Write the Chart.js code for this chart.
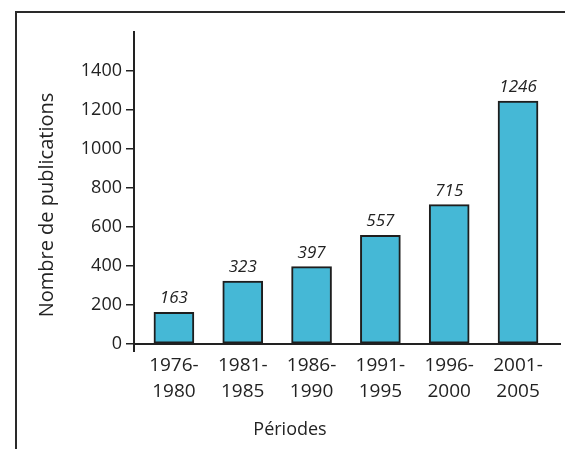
<!DOCTYPE html>
<html>
<head>
<meta charset="utf-8">
<script src="https://cdn.jsdelivr.net/npm/chart.js@4/dist/chart.umd.min.js"></script>
<style>
    html, body { margin: 0; padding: 0; background: #fff; overflow: hidden; }
    #wrap { position: relative; width: 565px; height: 449px; }
    #frame {
        position: absolute; left: 15px; top: 11px; width: 620px; height: 520px;
        border: 2px solid #2a2a2a; box-sizing: border-box; pointer-events: none;
    }
    canvas { position: absolute; left: 0; top: 0; }
</style>
</head>
<body>
<div id="wrap">
    <div id="frame"></div>
    <canvas id="chart" width="565" height="449"></canvas>
</div>
<script>
// données du graphique
const periodes = [['1976-', '1980'], ['1981-', '1985'], ['1986-', '1990'], ['1991-', '1995'], ['1996-', '2000'], ['2001-', '2005']];
const publications = [163, 323, 397, 557, 715, 1246];
const yTicks = [0, 200, 400, 600, 800, 1000, 1200, 1400];
const titreX = 'Périodes';
const titreY = 'Nombre de publications';

const INK = '#222';
const FONT = '"Open Sans", sans-serif';

// étiquettes en italique au-dessus des barres, titres des axes
const annotations = {
    id: 'annotations',
    afterDatasetsDraw(chart) {
        const ctx = chart.ctx;
        const meta = chart.getDatasetMeta(0);
        ctx.save();
        ctx.font = 'italic 17px ' + FONT;
        ctx.fillStyle = INK;
        ctx.textAlign = 'center';
        ctx.textBaseline = 'alphabetic';
        meta.data.forEach((bar, i) => {
            ctx.fillText(String(publications[i]), bar.x, bar.y - 9);
        });
        ctx.restore();
    },
    afterDraw(chart) {
        const ctx = chart.ctx;
        const area = chart.chartArea;
        ctx.save();
        // petit prolongement de l'axe vertical sous l'axe horizontal
        ctx.strokeStyle = INK;
        ctx.lineWidth = 2;
        ctx.beginPath();
        ctx.moveTo(area.left, area.bottom);
        ctx.lineTo(area.left, area.bottom + 8);
        ctx.stroke();

        ctx.fillStyle = INK;
        ctx.textAlign = 'center';
        ctx.textBaseline = 'middle';
        ctx.font = '18px ' + FONT;
        ctx.fillText(titreX, 290, 430);

        ctx.translate(47, 205);
        ctx.rotate(-Math.PI / 2);
        ctx.font = '20px ' + FONT;
        ctx.fillText(titreY, 0, 0);
        ctx.restore();
    }
};

new Chart(document.getElementById('chart'), {
    type: 'bar',
    data: {
        datasets: [{
            data: publications.map((v, i) => ({ x: i, y: v })),
            backgroundColor: '#45b8d6',
            borderColor: '#1e1e1e',
            borderWidth: 2,
            borderSkipped: false,
            barThickness: 40
        }]
    },
    options: {
        responsive: false,
        animation: false,
        layout: { padding: { top: 32, right: 5, bottom: 0, left: 0 } },
        plugins: {
            legend: { display: false },
            tooltip: { enabled: false }
        },
        scales: {
            x: {
                type: 'linear',
                offset: false,
                min: -0.58,
                max: 5.61,
                afterBuildTicks: (scale) => {
                    scale.ticks = periodes.map((p, i) => ({ value: i }));
                },
                afterFit: (scale) => { scale.height = 105; },
                ticks: {
                    autoSkip: false,
                    maxRotation: 0,
                    padding: 1,
                    color: INK,
                    font: { family: FONT, size: 19, lineHeight: 1.35 },
                    callback: (v) => periodes[v]
                },
                grid: {
                    drawOnChartArea: false,
                    tickLength: 8,
                    color: 'rgba(0,0,0,0)'
                },
                border: { color: INK, width: 2 }
            },
            y: {
                min: 0,
                max: 1600,
                afterBuildTicks: (scale) => {
                    scale.ticks = yTicks.map(v => ({ value: v }));
                },
                afterFit: (scale) => { scale.width = 134; },
                ticks: {
                    padding: 4,
                    color: INK,
                    font: { family: FONT, size: 18 },
                    callback: (v) => String(v)
                },
                grid: {
                    drawOnChartArea: false,
                    tickLength: 8,
                    lineWidth: 1.5,
                    color: INK
                },
                border: { color: INK, width: 2 }
            }
        }
    },
    plugins: [annotations]
});
</script>
</body>
</html>
